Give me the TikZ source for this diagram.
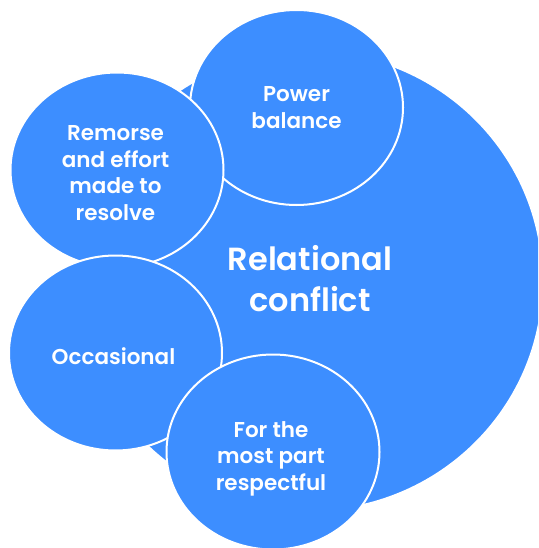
\documentclass[tikz,border=0pt]{standalone}
\usepackage{fontspec}
\newfontfamily\popfont{Poppins SemiBold}
\usetikzlibrary{shapes.geometric}
\definecolor{bubblue}{RGB}{61,142,255}
\tikzset{
  bub/.style={ellipse, fill=bubblue, draw=white, line width=2pt, inner sep=0pt,
              minimum width=213pt, minimum height=195pt},
  bigbub/.style={ellipse, fill=bubblue, draw=white, line width=2pt, inner sep=0pt,
              minimum width=466pt, minimum height=460pt},
  lbl/.style={text=white, align=center, inner sep=0pt, font=\popfont\fontsize{21.5}{26.5}\selectfont},
  biglbl/.style={text=white, align=center, inner sep=0pt, font=\popfont\fontsize{32}{41}\selectfont}
}
\begin{document}
\begin{tikzpicture}[x=1pt,y=-1pt]
\clip (0,0) rectangle (538,548);
\node[bigbub] (rel) at (310,281) {};
\node[bub] (pow) at (296.5,107.5) {};
\node[bub] (rem) at (117,170) {};
\node[bub] (occ) at (115.5,353) {};
\node[bub] (res) at (273,452) {};
\node[biglbl] (relt) at (310,278.5) {Relational\\conflict};
\node[lbl] (powt) at (296.5,107.5) {Power\\balance};
\node[lbl] (remt) at (115.5,173) {Remorse\\and effort\\made to\\resolve};
\node[lbl] (occt) at (113.5,355.7) {Occasional};
\node[lbl] (rest) at (271,458.5) {For the\\most part\\respectful};
\end{tikzpicture}
\end{document}
